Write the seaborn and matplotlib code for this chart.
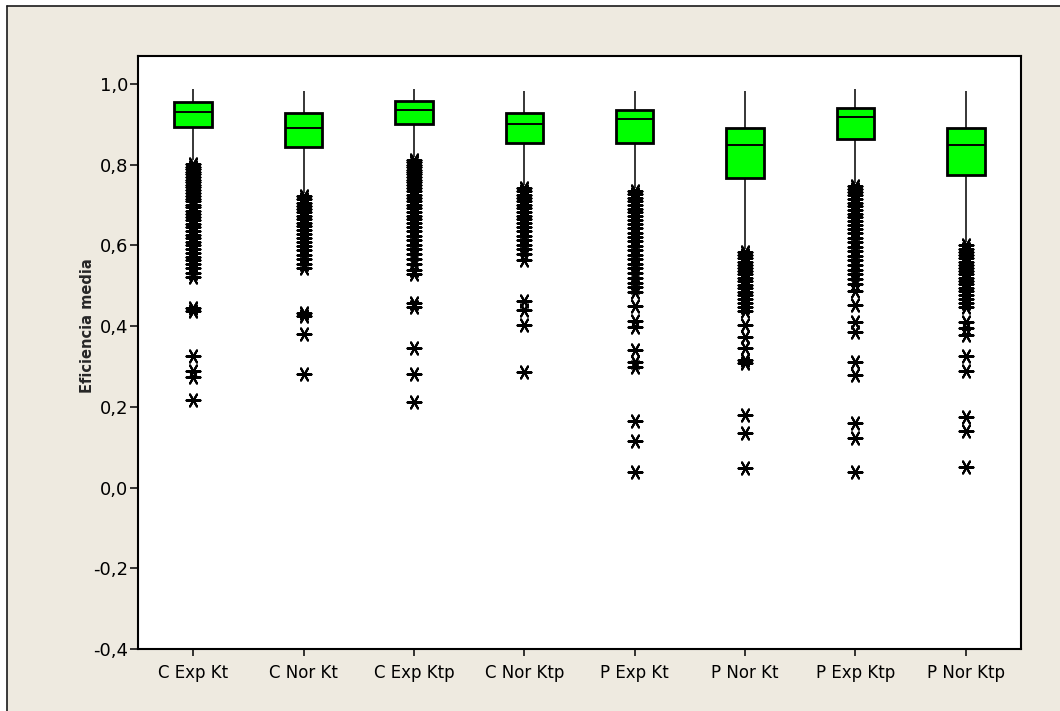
import numpy as np
import pandas as pd
import matplotlib
matplotlib.use("Agg")
import matplotlib.pyplot as plt
import seaborn as sns
from matplotlib.patches import Rectangle
from matplotlib.lines import Line2D

# ---------------- data ----------------
categories = ["C Exp Kt", "C Nor Kt", "C Exp Ktp", "C Nor Ktp",
              "P Exp Kt", "P Nor Kt", "P Exp Ktp", "P Nor Ktp"]

whisker_low = [0.811, 0.730, 0.819, 0.750, 0.742, 0.590, 0.754, 0.608]
q1 = [0.893, 0.843, 0.900, 0.853, 0.853, 0.767, 0.863, 0.774]
median = [0.930, 0.890, 0.935, 0.900, 0.913, 0.848, 0.918, 0.848]
q3 = [0.955, 0.928, 0.957, 0.927, 0.935, 0.890, 0.940, 0.890]
whisker_high = [0.987, 0.982, 0.987, 0.982, 0.982, 0.982, 0.987, 0.982]

out_c_exp_kt = [0.802, 0.795, 0.789, 0.782, 0.776, 0.770, 0.763, 0.757, 0.750,
                0.744, 0.737, 0.730, 0.723, 0.716, 0.709, 0.701, 0.694, 0.686,
                0.678, 0.670, 0.662, 0.654, 0.645, 0.636, 0.627, 0.618, 0.609,
                0.600, 0.591, 0.582, 0.572, 0.563, 0.553, 0.543, 0.532, 0.521,
                0.445, 0.438, 0.327, 0.290, 0.275, 0.217]
out_c_nor_kt = [0.722, 0.714, 0.706, 0.698, 0.690, 0.682, 0.674, 0.665, 0.656,
                0.647, 0.638, 0.628, 0.618, 0.608, 0.598, 0.588, 0.577, 0.566,
                0.555, 0.545, 0.432, 0.424, 0.381, 0.281]
out_c_exp_ktp = [0.812, 0.806, 0.800, 0.794, 0.788, 0.782, 0.776, 0.770, 0.763,
                 0.756, 0.749, 0.742, 0.734, 0.726, 0.718, 0.710, 0.701, 0.692,
                 0.683, 0.674, 0.665, 0.655, 0.645, 0.635, 0.624, 0.613, 0.602,
                 0.590, 0.578, 0.566, 0.553, 0.540, 0.528, 0.458, 0.448, 0.345,
                 0.282, 0.213]
out_c_nor_ktp = [0.742, 0.734, 0.726, 0.718, 0.710, 0.701, 0.692, 0.683, 0.674,
                 0.665, 0.655, 0.645, 0.635, 0.624, 0.613, 0.602, 0.590, 0.578,
                 0.565, 0.463, 0.440, 0.404, 0.286]
out_p_exp_kt = [0.735, 0.727, 0.718, 0.709, 0.700, 0.691, 0.682, 0.672, 0.662,
                0.652, 0.642, 0.632, 0.621, 0.610, 0.599, 0.588, 0.577, 0.566,
                0.555, 0.544, 0.532, 0.520, 0.508, 0.496, 0.484, 0.450, 0.412,
                0.398, 0.341, 0.310, 0.300, 0.165, 0.115, 0.038]
out_p_nor_kt = [0.584, 0.576, 0.568, 0.560, 0.552, 0.544, 0.536, 0.528, 0.520,
                0.512, 0.503, 0.494, 0.485, 0.476, 0.467, 0.458, 0.448, 0.438,
                0.402, 0.372, 0.346, 0.315, 0.308, 0.180, 0.135, 0.048]
out_p_exp_ktp = [0.748, 0.740, 0.732, 0.724, 0.715, 0.706, 0.697, 0.688, 0.679,
                 0.670, 0.660, 0.650, 0.640, 0.630, 0.619, 0.608, 0.597, 0.586,
                 0.575, 0.564, 0.552, 0.540, 0.528, 0.516, 0.505, 0.486, 0.452,
                 0.410, 0.385, 0.312, 0.280, 0.160, 0.124, 0.038]
out_p_nor_ktp = [0.600, 0.592, 0.584, 0.576, 0.568, 0.560, 0.552, 0.544, 0.536,
                 0.528, 0.520, 0.512, 0.504, 0.495, 0.486, 0.477, 0.468, 0.458,
                 0.447, 0.410, 0.396, 0.378, 0.325, 0.290, 0.176, 0.140, 0.052]

outliers = [out_c_exp_kt, out_c_nor_kt, out_c_exp_ktp, out_c_nor_ktp,
            out_p_exp_kt, out_p_nor_kt, out_p_exp_ktp, out_p_nor_ktp]

ytick_values = [-0.4, -0.2, 0.0, 0.2, 0.4, 0.6, 0.8, 1.0]
ytick_labels = ["-0,4", "-0,2", "0,0", "0,2", "0,4", "0,6", "0,8", "1,0"]
y_label = "Eficiencia media"

# ---------------- build tables ----------------
box_rows = []
for i, c in enumerate(categories):
    for v in (whisker_low[i], q1[i], median[i], q3[i], whisker_high[i]):
        box_rows.append((c, v))
box_df = pd.DataFrame(box_rows, columns=["cat", "val"])

out_rows = [(c, v) for c, vals in zip(categories, outliers) for v in vals]
out_df = pd.DataFrame(out_rows, columns=["cat", "val"])

# ---------------- figure ----------------
sns.set_style("white")
plt.rcParams["font.family"] = ["DejaVu Sans"]

W, H = 1060, 711
fig = plt.figure(figsize=(W / 100, H / 100), dpi=100, facecolor="white")

bg = Rectangle((7 / W, 0), 1.0, (H - 6) / H, transform=fig.transFigure,
               facecolor="#EEEAE0", edgecolor="none", zorder=-10)
fig.patches.append(bg)
fig.lines.append(Line2D([7 / W, 7 / W], [0, 1 - 6 / H], transform=fig.transFigure,
                        color="#1a1a1a", linewidth=1.2))
fig.lines.append(Line2D([7 / W, 1], [1 - 6 / H, 1 - 6 / H], transform=fig.transFigure,
                        color="#1a1a1a", linewidth=1.2))

ax = fig.add_axes([138 / W, 1 - 649 / H, (1021 - 138) / W, (649 - 56) / H])
ax.set_facecolor("white")

sns.boxplot(data=box_df, x="cat", y="val", order=categories, whis=np.inf,
            width=0.34, color="#00FF00", saturation=1, showcaps=False,
            linecolor="black", linewidth=1.1,
            boxprops=dict(linewidth=2.0),
            medianprops=dict(linewidth=1.4),
            whiskerprops=dict(linewidth=1.1),
            ax=ax)

n_before = len(ax.collections)
sns.stripplot(data=out_df, x="cat", y="val", order=categories, jitter=False,
              color="black", marker=(6, 2, 90), size=10, linewidth=1.5, ax=ax)
for coll in ax.collections[n_before:]:
    coll.set_edgecolor("black")
    coll.set_facecolor("black")
    coll.set_linewidth(1.5)
    coll.set_zorder(3)

ax.set_xlim(-0.5, 7.5)
ax.set_ylim(-0.4, 1.0694)
ax.set_yticks(ytick_values)
ax.set_yticklabels(ytick_labels)
ax.set_xlabel("")
ax.set_ylabel(y_label, fontsize=10.5, fontweight="bold")
ax.yaxis.set_label_coords(-0.049, 0.545)

for s in ax.spines.values():
    s.set_visible(True)
    s.set_color("black")
    s.set_linewidth(1.5)

ax.tick_params(axis="y", direction="out", length=5.5, width=1.1, pad=1.5,
               labelsize=13, colors="black", left=True)
ax.tick_params(axis="x", direction="out", length=5, width=1.1, pad=6,
               labelsize=12, colors="black", bottom=True)
ax.grid(False)

fig.savefig("out.png", dpi=100, facecolor=fig.get_facecolor())
